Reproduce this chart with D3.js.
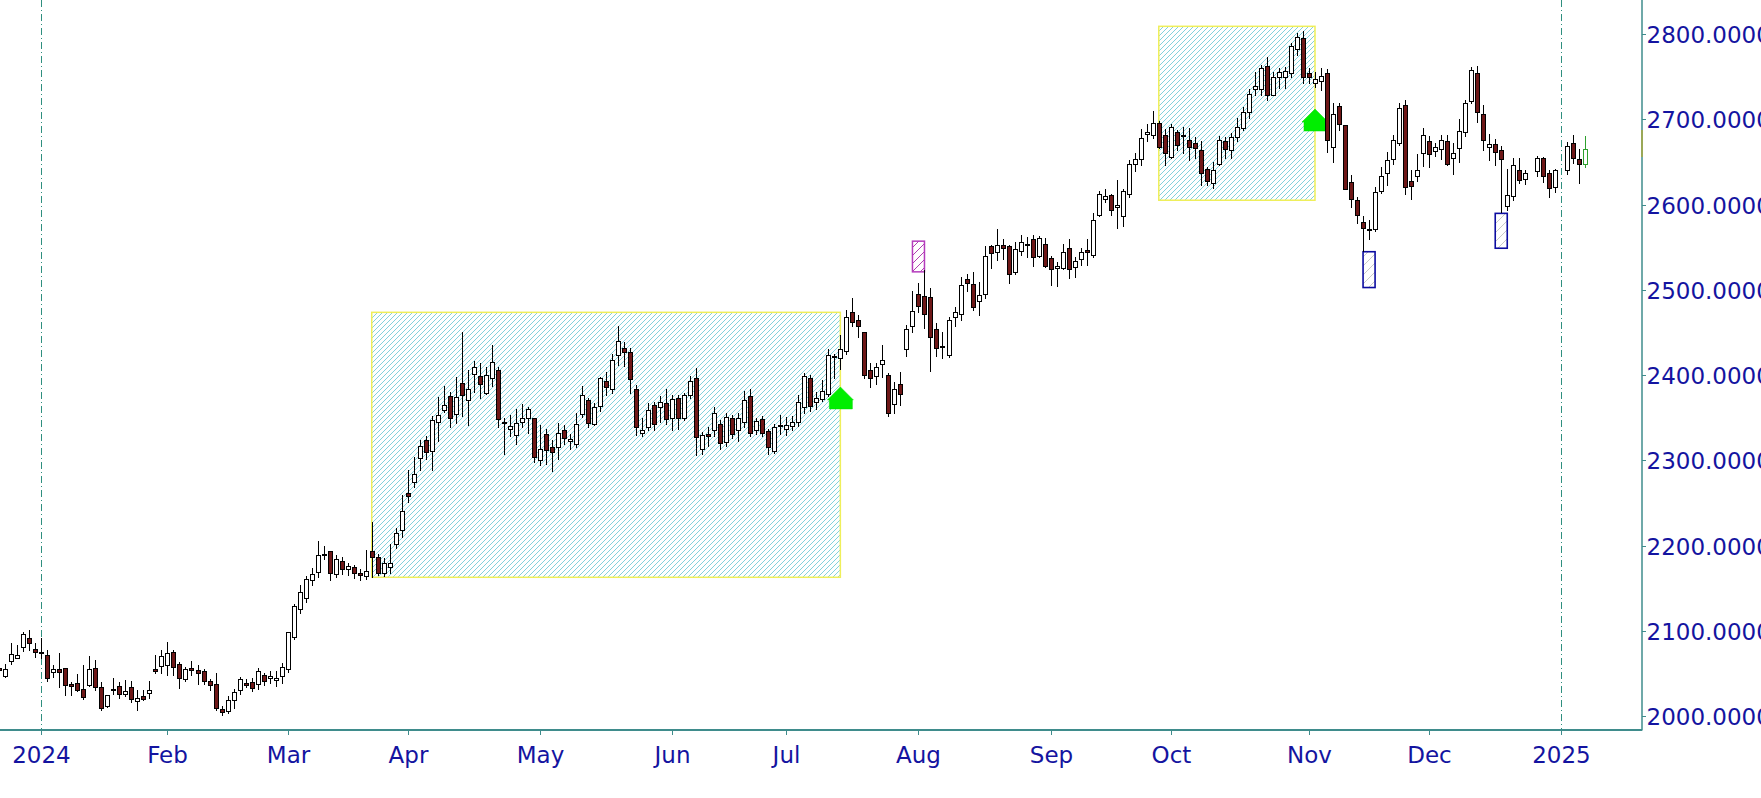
<!DOCTYPE html>
<html>
<head>
<meta charset="utf-8">
<script src="https://cdn.jsdelivr.net/npm/d3@7"></script>
<style>
  html, body { margin: 0; padding: 0; background: #ffffff; overflow: hidden; }
  svg { display: block; }
</style>
</head>
<body>
<svg id="chart" width="1761" height="798"></svg>
<script>
// ---------------- DATA (one entry per trading-bar slot; null = no bar) ----------------
const opens = [
2056,2047,2064,2068,2081,2092,2079,2075,2072,2052,
2055,2056,2037,2039,2032,2036,2056,2034,2012,2030,
2035,2026,2034,2018,2024,2027,2055,2059,2060,2075,
2061,2043,2056,2054,2053,2041,2037,2008,2006,2019,
2031,2039,2040,2038,2048,2044,2042,2047,2055,2093,
2126,2139,2159,2169,2189,2193,2166,2182,2172,2175,
2168,2164,2193,2186,2168,2175,2202,2218,2261,2275,
2303,2324,2311,2345,2359,2375,2354,2391,2371,2401,
2399,2379,2397,2406,2345,2337,2330,2345,2349,2349,
2300,2331,2315,2315,2336,2323,2319,2354,2371,2343,
2364,2393,2383,2424,2432,2427,2384,2332,2339,2365,
2363,2367,2350,2373,2349,2377,2397,2313,2331,2336,
2342,2321,2350,2335,2345,2375,2335,2348,2334,2311,
2340,2337,2340,2345,2362,2397,2368,2372,2378,2422,
2420,2428,2474,2464,2450,2406,2399,2413,2400,2366,
2389,2430,2457,2495,2493,2491,2454,2433,2423,2468,
2471,2513,2507,2487,2495,2551,2544,2553,2551,2521,
2546,2554,2560,2540,2554,2537,2525,2526,2549,2527,
2536,2547,2541,2588,2607,2611,2597,2586,2612,2647,
2653,2683,2681,2696,2682,2656,2685,2680,2676,2672,
2664,2642,2625,2648,2674,2664,2679,2690,2708,2736,
2735,2763,2729,2749,2749,2754,2782,2795,2754,2743,
2745,2754,2668,2715,2693,2626,2605,2579,2571,2571,
2616,2637,2653,2672,2717,2628,2633,2660,2675,2663,
2665,2675,2655,2666,2685,2721,2754,2706,2668,2671,
2664,2598,2610,2640,2630,null,2639,2654,2637,2621,
null,2640,2672,2653,2648];
const highs = [
2058,2061,2086,2083,2099,2101,2086,2091,2077,2060,
2074,2056,2040,2049,2060,2070,2066,2040,2025,2045,
2040,2042,2041,2030,2031,2041,2072,2077,2087,2077,
2063,2058,2065,2060,2055,2043,2050,2012,2023,2032,
2046,2043,2045,2056,2051,2053,2053,2062,2099,2131,
2154,2164,2174,2205,2199,2193,2189,2186,2180,2177,
2172,2195,2228,2190,2185,2202,2220,2259,2288,2304,
2324,2328,2352,2374,2387,2380,2398,2451,2406,2416,
2414,2409,2435,2409,2349,2353,2360,2366,2362,2349,
2341,2337,2324,2344,2341,2331,2356,2387,2373,2367,
2398,2404,2425,2457,2439,2432,2388,2350,2367,2368,
2375,2383,2377,2377,2379,2399,2408,2333,2339,2362,
2347,2356,2353,2355,2381,2384,2350,2352,2337,2342,
2353,2351,2352,2376,2402,2400,2380,2394,2431,2425,
2447,2476,2490,2470,2451,2414,2414,2435,2402,2392,
2403,2459,2498,2508,2523,2502,2461,2451,2468,2480,
2515,2518,2521,2509,2551,2553,2571,2560,2553,2556,
2564,2562,2564,2563,2561,2540,2532,2554,2560,2539,
2549,2560,2590,2616,2618,2612,2629,2618,2652,2660,
2688,2695,2710,2698,2688,2695,2687,2691,2690,2679,
2674,2644,2650,2680,2679,2684,2702,2714,2736,2756,
2764,2773,2756,2760,2761,2790,2801,2803,2760,2756,
2760,2759,2719,2719,2693,2635,2609,2586,2582,2621,
2644,2661,2681,2719,2723,2640,2659,2690,2680,2672,
2682,2681,2672,2700,2723,2761,2762,2717,2683,2677,
2669,2642,2654,2654,2640,null,2657,2656,2641,2642,
null,2673,2682,2665,2680];
const lows = [
2051,2046,2061,2068,2076,2077,2069,2068,2041,2046,
2034,2025,2025,2029,2020,2035,2030,2007,2011,2026,
2021,2023,2017,2007,2019,2021,2050,2051,2048,2048,
2033,2041,2048,2038,2038,2030,2007,2001,2003,2009,
2026,2034,2029,2032,2036,2039,2035,2039,2052,2090,
2121,2134,2154,2163,2184,2159,2163,2167,2165,2162,
2160,2161,2163,2165,2164,2168,2197,2210,2251,2269,
2288,2301,2288,2323,2357,2339,2344,2352,2341,2380,
2373,2378,2387,2339,2307,2328,2319,2339,2332,2298,
2294,2296,2287,2302,2319,2313,2316,2351,2339,2341,
2358,2376,2379,2412,2410,2379,2330,2328,2335,2336,
2345,2342,2336,2337,2347,2373,2306,2307,2317,2328,
2313,2317,2326,2322,2339,2328,2331,2328,2307,2309,
2331,2330,2335,2340,2355,2358,2360,2370,2375,2397,
2407,2425,2457,2444,2396,2386,2390,2398,2352,2355,
2365,2422,2450,2474,2455,2405,2422,2420,2421,2457,
2464,2499,2476,2470,2490,2525,2535,2536,2508,2519,
2541,2539,2528,2538,2527,2505,2504,2524,2514,2515,
2529,2529,2538,2586,2603,2588,2573,2575,2609,2639,
2646,2674,2678,2666,2646,2654,2664,2660,2652,2654,
2623,2623,2619,2646,2655,2655,2674,2687,2701,2728,
2728,2722,2728,2737,2737,2750,2775,2742,2742,2738,
2734,2661,2650,2687,2618,2597,2578,2545,2559,2569,
2614,2623,2648,2670,2612,2606,2628,2645,2644,2657,
2653,2646,2636,2650,2680,2719,2697,2664,2652,2646,
2591,2594,2605,2625,2624,null,2634,2626,2609,2615,
null,2636,2649,2625,2644];
const closes = [
2054,2055,2073,2072,2096,2086,2075,2074,2045,2055,
2052,2036,2035,2030,2022,2055,2034,2009,2025,2032,
2026,2029,2020,2021,2020,2030,2053,2070,2074,2057,
2044,2055,2054,2051,2041,2036,2009,2005,2019,2028,
2043,2036,2033,2053,2041,2047,2045,2057,2099,2129,
2146,2161,2167,2189,2190,2168,2184,2172,2176,2168,
2165,2170,2187,2168,2179,2179,2215,2240,2258,2284,
2317,2310,2347,2353,2365,2350,2374,2376,2384,2409,
2390,2400,2415,2348,2344,2340,2344,2350,2360,2304,
2313,2312,2310,2332,2326,2325,2342,2376,2344,2363,
2396,2386,2418,2440,2427,2395,2339,2336,2359,2342,
2368,2348,2372,2349,2377,2393,2327,2330,2328,2356,
2320,2351,2331,2350,2371,2332,2346,2332,2315,2339,
2341,2341,2345,2368,2399,2364,2373,2381,2423,2421,
2430,2468,2462,2458,2400,2396,2409,2418,2355,2384,
2378,2454,2475,2481,2471,2445,2432,2434,2465,2474,
2506,2508,2480,2494,2540,2543,2552,2549,2518,2548,
2556,2553,2539,2561,2528,2524,2528,2544,2524,2534,
2544,2544,2582,2612,2610,2594,2599,2616,2648,2653,
2678,2685,2696,2668,2660,2691,2670,2681,2668,2666,
2637,2627,2640,2676,2665,2679,2691,2709,2730,2739,
2760,2729,2749,2755,2757,2786,2796,2749,2749,2747,
2751,2676,2706,2695,2618,2607,2588,2573,2571,2615,
2633,2652,2676,2713,2620,2622,2640,2681,2659,2668,
2676,2648,2660,2686,2719,2758,2709,2676,2671,2662,
2653,2611,2646,2629,2637,null,2654,2633,2619,2641,
null,2669,2655,2648,2665];

// x-axis tick labels and the bar slot at which each month begins
const monthLabels = ["2024","Feb","Mar","Apr","May","Jun","Jul","Aug","Sep","Oct","Nov","Dec","2025"];
const monthBars   = [7, 28, 48, 68, 90, 112, 131, 153, 175, 195, 218, 238, 260];
const yearBars    = [7, 260];
// y-axis ticks
const priceTicks  = [2000, 2100, 2200, 2300, 2400, 2500, 2600, 2700, 2800];

// annotations (bar slots / price levels)
const boxStart = [62, 193], boxEnd = [140, 219], boxLow = [2162.7, 2605], boxHigh = [2473.5, 2809];
const arrowBars = [140, 219], arrowPrices = [2386, 2712];
const purpleStart = [152], purpleEnd = [154], purpleLow = [2521], purpleHigh = [2557];
const blueStart = [227, 249], blueEnd = [229, 251], blueLow = [2502.6, 2548.7], blueHigh = [2544.6, 2589.6];

// ---------------- CHART ----------------
const svg = d3.select("#chart");
const W = 1761, H = 798;
const axisX = 1642, axisY = 730;
const n = opens.length;
const x = d3.scaleLinear().domain([0, n - 1]).range([-0.76, -0.76 + (n - 1) * 6.008]);
const y = d3.scaleLinear().domain([2000, 2800]).range([716, 34]);

svg.append("rect").attr("width", W).attr("height", H).attr("fill", "#ffffff");

const defs = svg.append("defs");
function hatch(id, size, color, w) {
  const p = defs.append("pattern").attr("id", id)
    .attr("patternUnits", "userSpaceOnUse").attr("width", size).attr("height", size);
  p.append("rect").attr("width", size).attr("height", size).attr("fill", "#ffffff");
  p.append("path")
    .attr("d", `M${-size/4},${size/4} l${size/2},${-size/2} M0,${size} l${size},${-size} M${size*3/4},${size*5/4} l${size/2},${-size/2}`)
    .attr("stroke", color).attr("stroke-width", w).attr("fill", "none");
}
hatch("hCyan", 5, "#74cdd8", 0.9);
hatch("hPurple", 8, "#b040b0", 1);
hatch("hGray", 9, "#c8c8c8", 1);

const plot = svg.append("g");

// hatched range boxes
boxStart.forEach((s, i) => {
  const x0 = x(s), x1 = x(boxEnd[i]);
  const y0 = y(boxHigh[i]), y1 = y(boxLow[i]);
  plot.append("rect").attr("x", x0).attr("y", y0).attr("width", x1 - x0).attr("height", y1 - y0)
    .attr("fill", "url(#hCyan)").attr("stroke", "#efef5a").attr("stroke-width", 1.5);
});

// year separator lines
yearBars.forEach(b => {
  const xx = Math.round(x(b)) + 0.5;
  plot.append("line").attr("x1", xx).attr("x2", xx).attr("y1", 0).attr("y2", axisY)
    .attr("stroke", "#2f8f7f").attr("stroke-width", 1).attr("stroke-dasharray", "7,3,1,3");
});

// purple marker
purpleStart.forEach((s, i) => {
  const x0 = x(s), x1 = x(purpleEnd[i]);
  plot.append("rect").attr("x", x0).attr("y", y(purpleHigh[i])).attr("width", x1 - x0)
    .attr("height", y(purpleLow[i]) - y(purpleHigh[i]))
    .attr("fill", "url(#hPurple)").attr("stroke", "#b43cbc").attr("stroke-width", 1.5);
});

// blue markers
blueStart.forEach((s, i) => {
  const x0 = x(s), x1 = x(blueEnd[i]);
  plot.append("rect").attr("x", x0).attr("y", y(blueHigh[i])).attr("width", x1 - x0)
    .attr("height", y(blueLow[i]) - y(blueHigh[i]))
    .attr("fill", "url(#hGray)").attr("stroke", "#0c0ca0").attr("stroke-width", 1.6);
});

// green arrows
arrowBars.forEach((b, i) => {
  const cx = x(b), ay = y(arrowPrices[i]);
  const pts = [[cx, ay], [cx + 13, ay + 13], [cx + 12, ay + 13], [cx + 12, ay + 22],
               [cx - 11, ay + 22], [cx - 11, ay + 13], [cx - 13, ay + 13]];
  plot.append("polygon").attr("points", pts.map(p => p.join(",")).join(" "))
    .attr("fill", "#00ee00").attr("stroke", "#00dd00").attr("stroke-width", 0.5);
});

// candles
const bars = d3.range(n).filter(i => opens[i] != null);
const cg = plot.append("g");
bars.forEach(i => {
  const cx = Math.round(x(i));
  const last = i === n - 1;
  const line = last ? "#2ea02e" : "#000000";
  const up = closes[i] >= opens[i];
  cg.append("line").attr("x1", cx + 0.5).attr("x2", cx + 0.5)
    .attr("y1", Math.round(y(highs[i]))).attr("y2", Math.round(y(lows[i])) + 1)
    .attr("stroke", line).attr("stroke-width", 1);
  const t = Math.round(y(Math.max(opens[i], closes[i]))) + 0.5;
  const btm = Math.round(y(Math.min(opens[i], closes[i]))) + 0.5;
  cg.append("rect").attr("x", cx - 1.5).attr("y", t).attr("width", 4)
    .attr("height", Math.max(btm - t, 1))
    .attr("fill", up ? "#ffffff" : "#6e1717").attr("stroke", line).attr("stroke-width", 1);
});

// axes
const axisColor = "#3f8c8c";
svg.append("line").attr("x1", axisX).attr("x2", axisX).attr("y1", 0).attr("y2", axisY + 0.5)
  .attr("stroke", axisColor).attr("stroke-width", 1.5);
svg.append("line").attr("x1", 0).attr("x2", axisX).attr("y1", axisY).attr("y2", axisY)
  .attr("stroke", axisColor).attr("stroke-width", 2);
// small price marker on axis
svg.append("line").attr("x1", axisX).attr("x2", axisX).attr("y1", 130).attr("y2", 157)
  .attr("stroke", "#a8a83c").attr("stroke-width", 1.5);

const textColor = "#1414a0";
const fontFam = "'DejaVu Sans', Verdana, sans-serif";

priceTicks.forEach(p => {
  const yy = Math.round(y(p)) + 0.5;
  svg.append("line").attr("x1", axisX).attr("x2", axisX + 4).attr("y1", yy).attr("y2", yy)
    .attr("stroke", axisColor).attr("stroke-width", 1);
  svg.append("text").attr("x", 1646.5).attr("y", yy + 8.5)
    .attr("font-family", fontFam).attr("font-size", 23).attr("fill", textColor)
    .text(d3.format(".4f")(p));
});

monthBars.forEach((b, i) => {
  const xx = Math.round(x(b)) + 0.5;
  svg.append("line").attr("x1", xx).attr("x2", xx).attr("y1", axisY).attr("y2", axisY + 5)
    .attr("stroke", axisColor).attr("stroke-width", 1);
  svg.append("text").attr("x", xx).attr("y", 763).attr("text-anchor", "middle")
    .attr("font-family", fontFam).attr("font-size", 23).attr("fill", textColor)
    .text(monthLabels[i]);
});
</script>
</body>
</html>
